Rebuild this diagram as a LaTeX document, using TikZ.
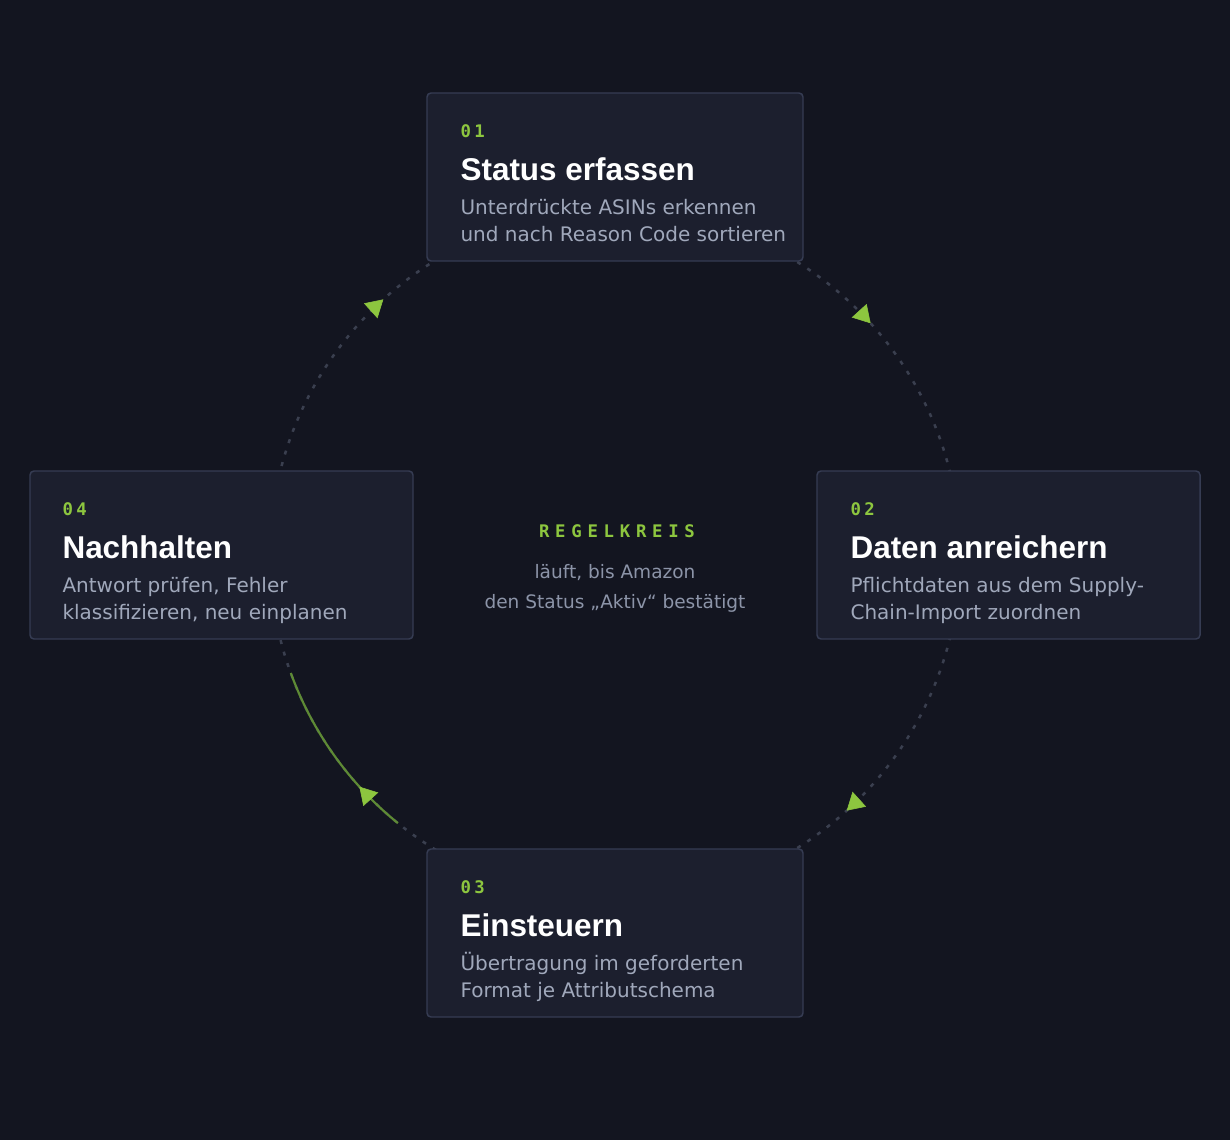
\documentclass[tikz,border=0pt]{standalone}
\usepackage{fontspec}
\setmainfont{DejaVu Sans}
\newfontfamily\titlefont{Liberation Sans}
\newfontfamily\monofont{DejaVu Sans Mono}
\usetikzlibrary{positioning,arrows.meta,decorations.markings}

\definecolor{bgdark}{HTML}{131520}
\definecolor{boxfill}{HTML}{1C1F2E}
\definecolor{boxline}{HTML}{363C53}
\definecolor{accent}{HTML}{8DC63F}
\definecolor{arcgreen}{HTML}{5E8A35}
\definecolor{ringgray}{HTML}{3A3F4F}
\definecolor{desctext}{HTML}{A0A8BB}
\definecolor{hubtext}{HTML}{8C94A8}

\def\ringr{258.75pt}

\tikzset{
  flowtip/.tip={Triangle[length=12.75pt, width=15pt, color=accent]},
  stepbox/.style={draw=boxline, fill=boxfill, line width=1.1pt, rounded corners=3pt, minimum height=126pt},
  numlabel/.style={inner sep=0, text=accent, font=\monofont\bfseries\fontsize{13}{13}\selectfont\addfontfeature{LetterSpace=20}},
  steptitle/.style={inner sep=0, text=white, font=\titlefont\bfseries\fontsize{23.6}{24}\selectfont},
  stepdesc/.style={inner sep=0, text=desctext, font=\fontsize{15}{18}\selectfont},
  hubtitle/.style={inner sep=0, text=accent, font=\monofont\bfseries\fontsize{13}{13}\selectfont\addfontfeature{LetterSpace=33}},
  hubnote/.style={inner sep=0, text=hubtext, font=\fontsize{13.9}{16}\selectfont},
  ring/.style={draw=ringgray, line width=1.9pt, dash pattern=on 3pt off 6pt},
  activearc/.style={draw=arcgreen, line width=1.65pt},
  flowmarks/.style={decorate, decoration={markings,
    mark=at position 0.1328 with {\arrow{flowtip}},
    mark=at position 0.3828 with {\arrow{flowtip}},
    mark=at position 0.6328 with {\arrow{flowtip}},
    mark=at position 0.8828 with {\arrow{flowtip}}}}
}

\begin{document}
\begin{tikzpicture}[x=0.75pt, y=0.75pt]
\fill[bgdark] (0,0) rectangle (1230,1140);

% loop
\coordinate (hub) at (615,585);
\draw[ring] ([shift={(90:\ringr)}]hub) arc[start angle=90, end angle=-270, radius=\ringr];
\draw[activearc] ([shift={(231:\ringr)}]hub) arc[start angle=231, end angle=200, radius=\ringr];
\path[flowmarks] ([shift={(90:\ringr)}]hub) arc[start angle=90, end angle=-270, radius=\ringr];

% steps
\node[stepbox, minimum width=282pt] (s1) at (615,963) {};
\node[stepbox, minimum width=287.25pt] (s2) at (1008.5,585) {};
\node[stepbox, minimum width=282pt] (s3) at (615,207) {};
\node[stepbox, minimum width=287.25pt] (s4) at (221.5,585) {};

\node[numlabel, below right=33.75pt and 25.5pt of s1.north west, anchor=base west] (n1) {01};
\node[steptitle, below=32.25pt of n1.base west, anchor=base west] (t1) {Status erfassen};
\node[stepdesc, below=25.5pt of t1.base west, anchor=base west] (d1) {Unterdrückte ASINs erkennen};
\node[stepdesc, below=20.25pt of d1.base west, anchor=base west] (e1) {und nach Reason Code sortieren};

\node[numlabel, below right=33.75pt and 25.5pt of s2.north west, anchor=base west] (n2) {02};
\node[steptitle, below=32.25pt of n2.base west, anchor=base west] (t2) {Daten anreichern};
\node[stepdesc, below=25.5pt of t2.base west, anchor=base west] (d2) {Pflichtdaten aus dem Supply-};
\node[stepdesc, below=20.25pt of d2.base west, anchor=base west] (e2) {Chain-Import zuordnen};

\node[numlabel, below right=33.75pt and 25.5pt of s3.north west, anchor=base west] (n3) {03};
\node[steptitle, below=32.25pt of n3.base west, anchor=base west] (t3) {Einsteuern};
\node[stepdesc, below=25.5pt of t3.base west, anchor=base west] (d3) {Übertragung im geforderten};
\node[stepdesc, below=20.25pt of d3.base west, anchor=base west] (e3) {Format je Attributschema};

\node[numlabel, below right=33.75pt and 24.75pt of s4.north west, anchor=base west] (n4) {04};
\node[steptitle, below=32.25pt of n4.base west, anchor=base west] (t4) {Nachhalten};
\node[stepdesc, below=25.5pt of t4.base west, anchor=base west] (d4) {Antwort prüfen, Fehler};
\node[stepdesc, below=20.25pt of d4.base west, anchor=base west] (e4) {klassifizieren, neu einplanen};

% centre
\node[hubtitle, anchor=base] (hubt) at (617,603) {REGELKREIS};
\node[hubnote, anchor=base] (hubl1) at (615,562) {läuft, bis Amazon};
\node[hubnote, below=22.5pt of hubl1.base, anchor=base] (hubl2) {den Status „Aktiv“ bestätigt};
\end{tikzpicture}
\end{document}
